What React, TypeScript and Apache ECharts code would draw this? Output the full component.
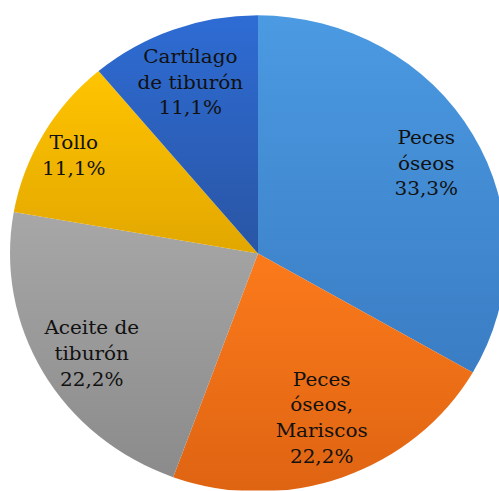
import React, { useEffect, useRef } from "react";
import * as echarts from "echarts";

const categories = [
  "Peces\nóseos",
  "Peces\nóseos,\nMariscos",
  "Aceite de\ntiburón",
  "Tollo",
  "Cartílago\nde tiburón",
];
const values = [33.3, 22.2, 22.2, 11.1, 11.1];
const topColors = ["#4b9ae2", "#fb7a1b", "#a7a7a7", "#ffc400", "#2e6cd4"];
const bottomColors = ["#3a7dc4", "#df6412", "#8b8b8b", "#e2a700", "#2955a4"];
const labelOffsets: [number, number][] = [
  [2, 2],
  [-2, -9],
  [0, 8],
  [-18, -6],
  [-2, 2],
];

const SCALE_Y = 0.96;
const SERIF = "DejaVu Serif";

export default function App() {
  const ref = useRef<HTMLDivElement>(null);
  useEffect(() => {
    if (!ref.current) return;
    const chart = echarts.init(ref.current, undefined, { renderer: "svg" });
    const fmt = (v: number) => v.toFixed(1).replace(".", ",") + "%";
    const baseData = categories.map((name, i) => ({
      name,
      value: values[i],
      itemStyle: {
        color: new echarts.graphic.LinearGradient(0, 0, 0, 1, [
          { offset: 0, color: topColors[i] },
          { offset: 1, color: bottomColors[i] },
        ]),
      },
    }));
    const labelData = categories.map((name, i) => ({
      name,
      value: values[i],
      label: { offset: labelOffsets[i] },
    }));
    const center = [258, 264];
    chart.setOption({
      animation: false,
      backgroundColor: "#ffffff",
      textStyle: { fontFamily: SERIF },
      series: [
        {
          type: "pie",
          center,
          radius: [0, 248],
          startAngle: 90,
          clockwise: true,
          silent: true,
          label: { show: false },
          labelLine: { show: false },
          itemStyle: { borderWidth: 0 },
          data: baseData,
        },
        {
          type: "pie",
          center,
          radius: [130, 248],
          startAngle: 90,
          clockwise: true,
          silent: true,
          itemStyle: { color: "rgba(0,0,0,0)", borderWidth: 0 },
          labelLine: { show: false },
          label: {
            show: true,
            position: "inside",
            align: "center",
            fontFamily: SERIF,
            fontSize: 20,
            lineHeight: 27,
            color: "#111111",
            formatter: (p: any) => p.name + "\n" + fmt(p.value),
          },
          data: labelData,
        },
      ],
    });
    return () => chart.dispose();
  }, []);
  return (
    <div
      style={{
        position: "fixed",
        left: 0,
        top: 0,
        width: 499,
        height: 491,
        overflow: "hidden",
        background: "#ffffff",
      }}
    >
      <div
        ref={ref}
        style={{
          width: 499,
          height: Math.round(491 / SCALE_Y),
          transform: `scaleY(${SCALE_Y})`,
          transformOrigin: "0 0",
        }}
      />
    </div>
  );
}
